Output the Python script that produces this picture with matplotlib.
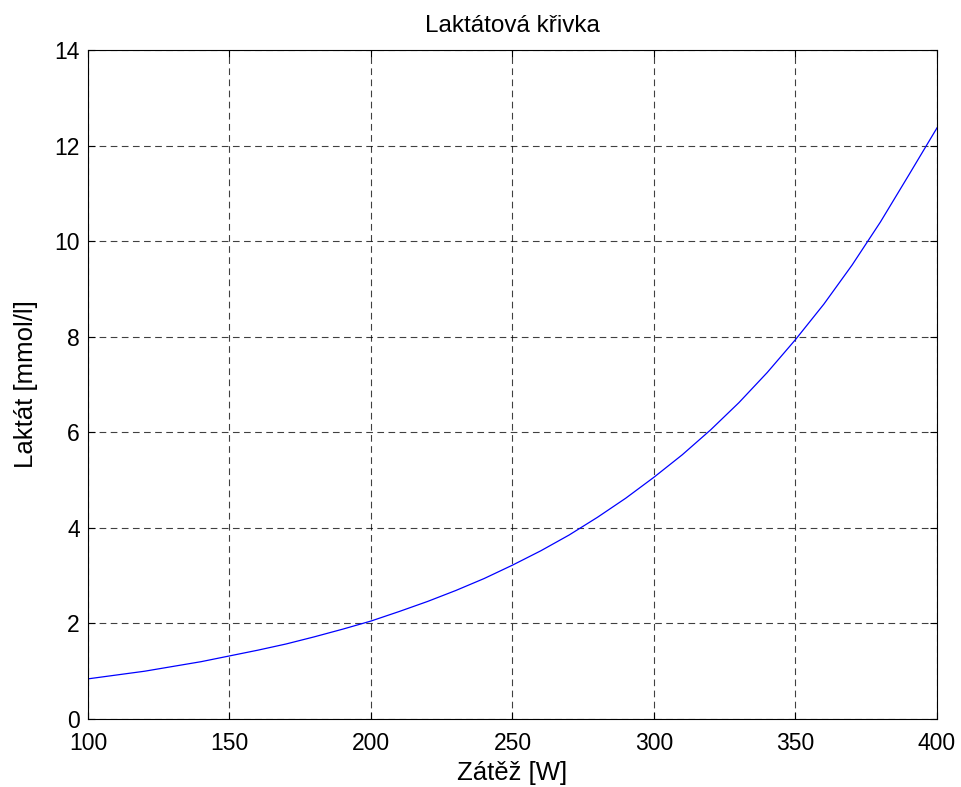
import numpy as np
import matplotlib.pyplot as plt

plt.rcParams['font.family'] = ['Liberation Sans', 'DejaVu Sans']

# Zatez [W] a odpovidajici laktat [mmol/l]
zatez = [100, 110, 120, 130, 140, 150, 160, 170, 180, 190, 200,
         210, 220, 230, 240, 250, 260, 270, 280, 290, 300,
         310, 320, 330, 340, 350, 360, 370, 380, 390, 400]
laktat = [0.84, 0.92, 1.00, 1.10, 1.20, 1.32, 1.44, 1.57, 1.72, 1.88, 2.05,
          2.25, 2.46, 2.69, 2.94, 3.22, 3.52, 3.85, 4.22, 4.62, 5.06,
          5.53, 6.05, 6.62, 7.25, 7.94, 8.68, 9.50, 10.40, 11.38, 12.37]

x_ticks = [100, 150, 200, 250, 300, 350, 400]
y_ticks = [0, 2, 4, 6, 8, 10, 12, 14]

fig = plt.figure(figsize=(9.62, 7.87), dpi=100)
ax = fig.add_axes([88/962, 1 - 719/787, (937-88)/962, (719-50)/787])

ax.plot(zatez, laktat, color=(0, 0, 1), lw=0.9)

ax.set_xlim(100, 400)
ax.set_ylim(0, 14)
ax.set_xticks(x_ticks)
ax.set_yticks(y_ticks)
ax.tick_params(direction='in', top=True, right=True, length=5, width=0.8,
               labelsize=16.5)
ax.tick_params(axis='x', pad=9)
ax.tick_params(axis='y', pad=6)
ax.grid(True, color='black', ls=(0, (6, 4)), lw=0.8, alpha=0.75)
for s in ax.spines.values():
    s.set_linewidth(0.8)

ax.set_title('Laktátová křivka', fontsize=17.5, pad=13)
ax.set_xlabel('Zátěž [W]', fontsize=18.5, labelpad=5)
ax.set_ylabel('Laktát [mmol/l]', fontsize=18.5, labelpad=12)

fig.savefig('out.png', dpi=100)
